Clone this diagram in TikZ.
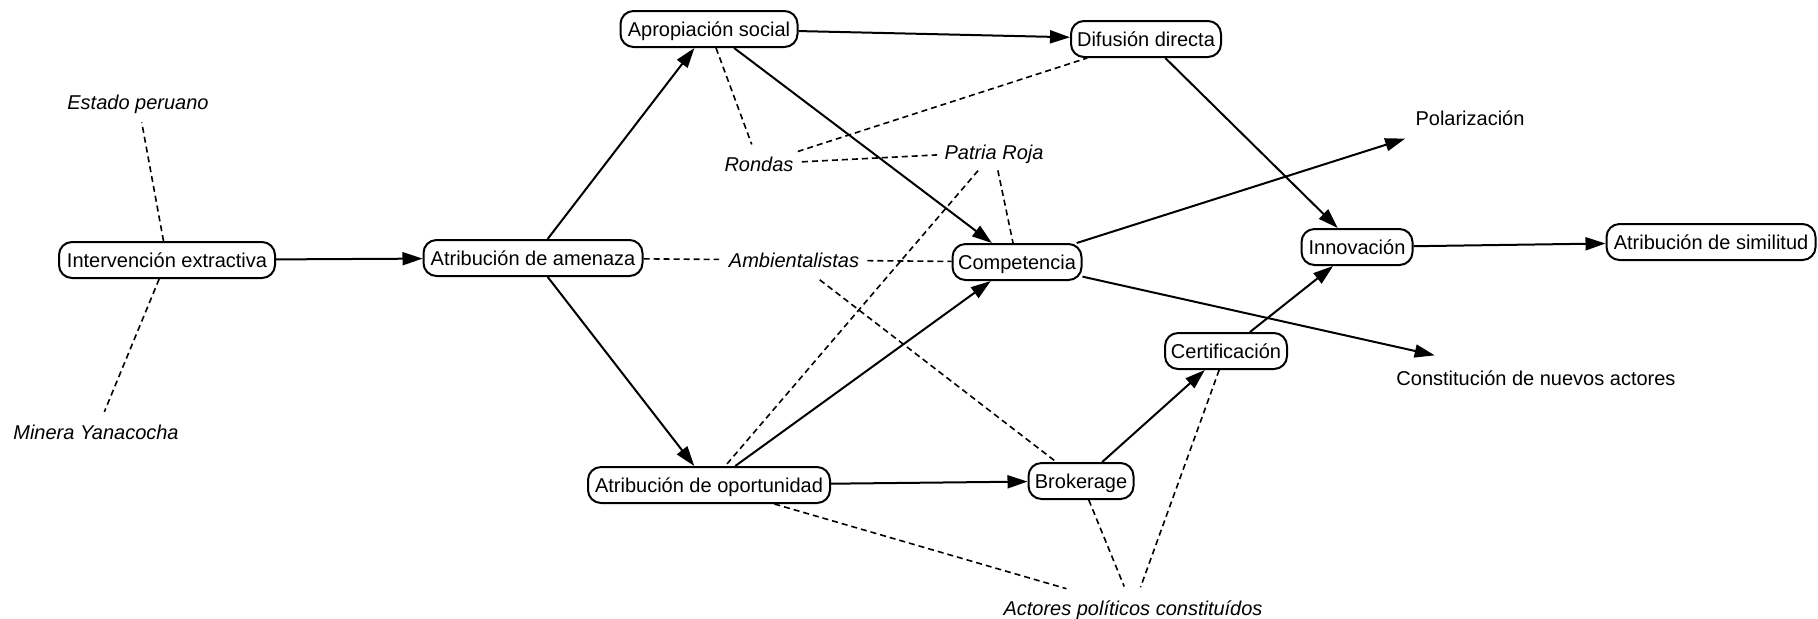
\documentclass[tikz,border=0pt]{standalone}
\usepackage{fontspec}
\setmainfont{Liberation Sans}
\usetikzlibrary{arrows.meta}
\begin{document}
\begin{tikzpicture}[x=0.5pt,y=-0.5pt,
  box/.style={draw, line width=1pt, rounded corners=6.5pt, minimum height=18pt, inner xsep=2pt, inner ysep=0pt, text height=7.2pt, text depth=0pt, font=\fontsize{10pt}{12pt}\selectfont},
  lbl/.style={inner sep=0pt, text height=7.2pt, text depth=0pt, font=\fontsize{10pt}{12pt}\selectfont},
  it/.style={lbl, font=\fontsize{10pt}{12pt}\selectfont\itshape},
  arr/.style={line width=1pt, -{Triangle[length=10pt,width=6.5pt]}},
  dsh/.style={line width=0.8pt, dash pattern=on 3pt off 2pt},
]
\fill[white] (0,0) rectangle (1818,618);
\useasboundingbox (0,0) rectangle (1818,618);

\node[box, minimum width=108pt] (interv) at (167,260) {Intervención extractiva};
\node[box, minimum width=109.5pt] (amen) at (533,258) {Atribución de amenaza};
\node[box, minimum width=88.5pt] (aprop) at (709,29) {Apropiación social};
\node[box, minimum width=75pt] (difus) at (1146,39) {Difusión directa};
\node[box, minimum width=64.5pt] (comp) at (1017,262) {Competencia};
\node[box, minimum width=121pt] (oport) at (709,485) {Atribución de oportunidad};
\node[box, minimum width=52.5pt] (brok) at (1081,481) {Brokerage};
\node[box, minimum width=61pt] (cert) at (1226,351) {Certificación};
\node[box, minimum width=55.5pt] (innov) at (1357,247) {Innovación};
\node[box, minimum width=104.5pt] (simil) at (1711,242) {Atribución de similitud};

\node[it] (estado) at (138,102) {Estado peruano};
\node[it] (minera) at (96,432) {Minera Yanacocha};
\node[it] (rondas) at (759,164) {Rondas};
\node[it] (patria) at (994,152) {Patria Roja};
\node[it] (amb) at (794,260) {Ambientalistas};
\node[it] (actores) at (1133,608) {Actores políticos constituídos};
\node[lbl] (polar) at (1470,118) {Polarización};
\node[lbl] (const) at (1536,378) {Constitución de nuevos actores};

\draw[arr] (interv) -- (amen);
\draw[arr] (amen) -- (aprop);
\draw[arr] (amen) -- (oport);
\draw[arr] (aprop) -- (difus);
\draw[arr] (aprop) -- (comp);
\draw[arr] (oport) -- (comp);
\draw[arr] (oport) -- (brok);
\draw[arr] (brok) -- (cert);
\draw[arr] (cert) -- (innov);
\draw[arr] (difus) -- (innov);
\draw[arr] (innov) -- (simil);
\draw[arr, shorten >=21.5pt] (comp) -- (polar);
\draw[arr, shorten >=34.5pt] (comp) -- (const);

\draw[dsh, shorten >=6.5pt] (interv) -- (estado);
\draw[dsh, shorten >=6.8pt] (interv) -- (minera);
\draw[dsh, shorten >=4.75pt] (amen) -- (amb);
\draw[dsh, shorten <=4pt] (amb) -- (comp);
\draw[dsh, shorten <=10pt] (amb) -- (brok);
\draw[dsh, shorten >=6.4pt] (aprop) -- (rondas);
\draw[dsh, shorten <=8pt] (rondas) -- (difus);
\draw[dsh, shorten <=4pt, shorten >=3.5pt] (rondas) -- (patria);
\draw[dsh, shorten <=7.25pt] (patria) -- (oport);
\draw[dsh, shorten <=5.5pt] (patria) -- (comp);
\draw[dsh, shorten >=21pt] (oport) -- (actores);
\draw[dsh, shorten >=7.5pt] (brok) -- (actores);
\draw[dsh, shorten >=7pt] (cert) -- (actores);
\end{tikzpicture}
\end{document}
